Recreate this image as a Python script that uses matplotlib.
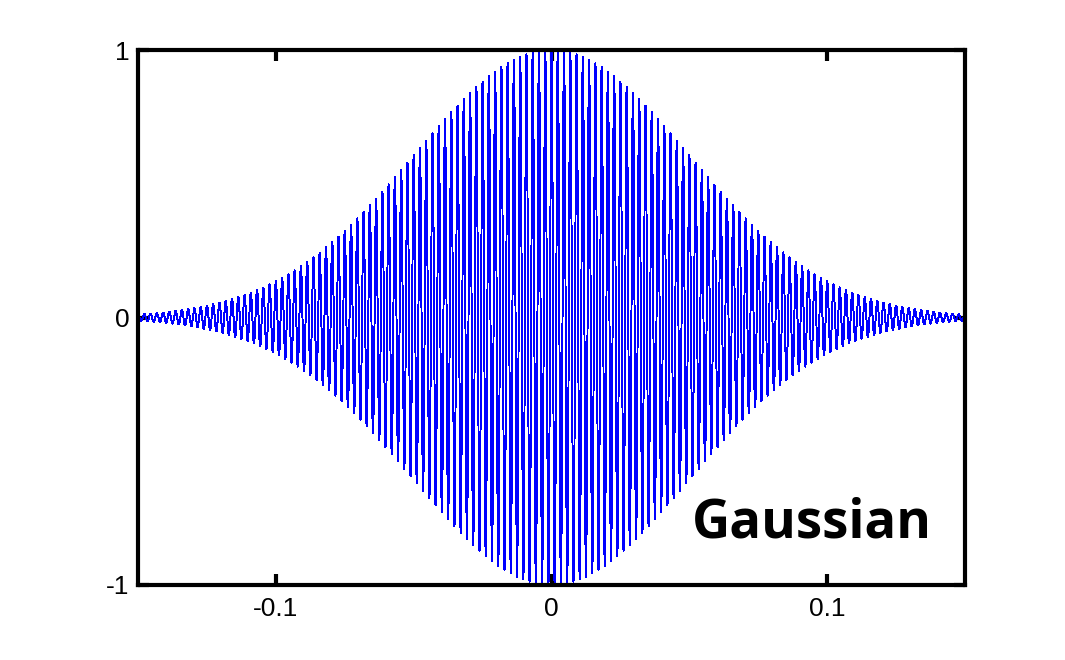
import numpy as np
import matplotlib
matplotlib.use('Agg')
from matplotlib import pyplot as plt

# values
x_limits = [-0.15, 0.15]
y_limits = [-1, 1]
x_ticks = [-0.1, 0, 0.1]
x_tick_labels = ['-0.1', '0', '0.1']
y_ticks = [-1, 0, 1]
y_tick_labels = ['-1', '0', '1']
carrier_hz = 440.0      # about 6.3 px per cycle
envelope_sigma = 0.05   # amplitude ~0.8 at -0.033, ~0.62 at 0.05, ~0.14 at -0.1
sample_rate = 44100
label = 'Gaussian'

t = np.arange(x_limits[0], x_limits[1], 1.0 / sample_rate)
signal = np.exp(-t**2 / (2 * envelope_sigma**2)) * np.cos(2 * np.pi * carrier_hz * t)

plt.rcParams['font.family'] = ['Liberation Sans', 'DejaVu Sans']
fig = plt.figure(figsize=(10.65, 6.6), dpi=100)
ax = fig.add_axes([138 / 1065, 1 - 585 / 660, (965 - 138) / 1065, (585 - 50) / 660])
ax.plot(t, signal, color='#0000ff', linewidth=0.7, antialiased=False)

ax.set_xlim(x_limits)
ax.set_ylim(y_limits)
ax.set_xticks(x_ticks)
ax.set_xticklabels(x_tick_labels)
ax.set_yticks(y_ticks)
ax.set_yticklabels(y_tick_labels)
ax.tick_params(direction='in', length=8, width=3, labelsize=19,
               top=True, right=True)
ax.tick_params(axis='x', pad=9)
ax.tick_params(axis='y', pad=6)
for s in ax.spines.values():
    s.set_linewidth(3)

ax.text(0.815, 0.115, label, transform=ax.transAxes, ha='center', va='center',
        fontsize=38, fontweight='bold', family=['Open Sans', 'DejaVu Sans'])

fig.savefig('out.png', dpi=100)
